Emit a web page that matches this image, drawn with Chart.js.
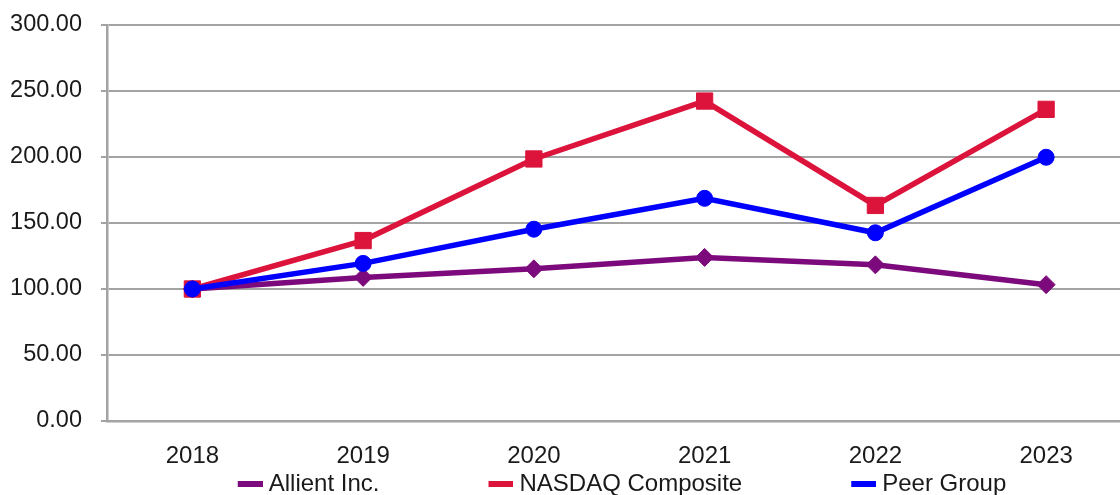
<!DOCTYPE html>
<html>
<head>
<meta charset="utf-8">
<script src="https://cdn.jsdelivr.net/npm/chart.js@4"></script>
<style>
  html, body { margin: 0; padding: 0; background: #fff; overflow: hidden; }
  #wrap { position: absolute; left: 0; top: 0; width: 1144px; height: 506px; }
</style>
</head>
<body>
<div id="wrap"><canvas id="myChart"></canvas></div>
<script>
'use strict';

// years on the x axis
var years = ['2018', '2019', '2020', '2021', '2022', '2023'];

// cumulative total return, indexed to 100
var allient = [100, 108.8, 115.3, 123.9, 118.3, 103.3];
var nasdaq = [100, 136.7, 198.5, 242.4, 163.3, 236.1];
var peerGroup = [100, 119.4, 145.3, 168.7, 142.6, 199.8];

var yTicks = [0, 50, 100, 150, 200, 250, 300];

var gridGray = '#a3a3a3';
var textColor = '#1a1a1a';
var fontFamily = '"Liberation Sans", Arial, sans-serif';

// legend swatch: blank lead-in on the left (spacing), short bar on the right
var swatchLead = 128;
function legendSwatch(color) {
  var c = document.createElement('canvas');
  c.width = swatchLead + 12;
  c.height = 6;
  var g = c.getContext('2d');
  g.fillStyle = color;
  g.fillRect(c.width - 25, 0, 25, 6);
  return c;
}

var ctx = document.getElementById('myChart').getContext('2d');

var chart = new Chart(ctx, {
  type: 'line',
  data: {
    labels: years,
    datasets: [{
      label: 'Allient Inc.',
      data: allient,
      borderColor: '#7d0a7d',
      backgroundColor: '#7d0a7d',
      borderWidth: 5.5,
      pointStyle: 'rectRot',
      pointRadius: 9,
      pointBorderWidth: 1,
      order: 2
    },
    {
      label: 'NASDAQ Composite',
      data: nasdaq,
      borderColor: '#dc143c',
      backgroundColor: '#dc143c',
      borderWidth: 5.5,
      pointStyle: 'rect',
      pointRadius: 11.5,
      pointBorderWidth: 1,
      order: 1
    },
    {
      label: 'Peer Group',
      data: peerGroup,
      borderColor: '#0000ff',
      backgroundColor: '#0000ff',
      borderWidth: 5.5,
      pointStyle: 'circle',
      pointRadius: 8,
      pointBorderWidth: 1,
      order: 0
    }]
  },
  options: {
    responsive: true,
    maintainAspectRatio: false,
    animation: false,
    events: [],
    layout: {
      padding: { left: 0, right: 9, top: 0, bottom: 0 }
    },
    elements: {
      line: { tension: 0 }
    },
    scales: {
      x: {
        offset: true,
        afterFit: function(axis) { axis.height = 51; },
        grid: { display: false, drawTicks: false },
        border: { display: true, color: gridGray, width: 2.5 },
        ticks: {
          color: textColor,
          padding: 21,
          font: { family: fontFamily, size: 24 }
        }
      },
      y: {
        min: 0,
        max: 300,
        afterFit: function(axis) {
          axis.width = 107;
          axis.paddingTop = 25; // top gridline sits close to the edge
        },
        afterBuildTicks: function(axis) {
          axis.ticks = yTicks.map(function(v) { return { value: v }; });
        },
        grid: { color: gridGray, lineWidth: 2, tickLength: 6 },
        border: { display: true, color: gridGray, width: 2.5 },
        ticks: {
          color: textColor,
          padding: 19,
          font: { family: fontFamily, size: 23.5 },
          callback: function(v) { return v.toFixed(2); }
        }
      }
    },
    plugins: {
      tooltip: { enabled: false },
      legend: {
        position: 'bottom',
        labels: {
          usePointStyle: true,
          pointStyleWidth: swatchLead,
          boxHeight: 6,
          padding: 0,
          color: textColor,
          font: { family: fontFamily, size: 24 },
          generateLabels: function(chart) {
            return chart.data.datasets.map(function(ds, i) {
              return {
                text: ds.label,
                fillStyle: ds.borderColor,
                strokeStyle: ds.borderColor,
                pointStyle: legendSwatch(ds.borderColor),
                lineWidth: 0,
                hidden: false,
                fontColor: textColor,
                datasetIndex: i
              };
            });
          }
        }
      }
    }
  }
});
</script>
</body>
</html>
